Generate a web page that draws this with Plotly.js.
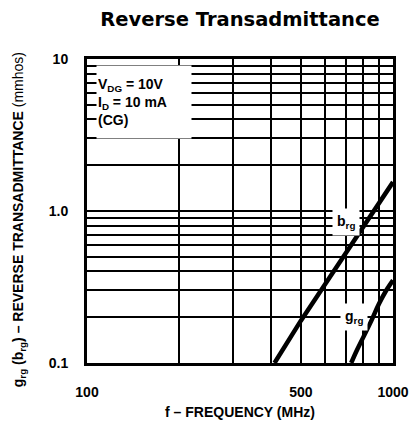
<!DOCTYPE html>
<html>
<head>
<meta charset="utf-8">
<script src="https://cdn.plot.ly/plotly-3.0.1.min.js"></script>
<style>html,body{margin:0;padding:0;background:#fff;}#chart{width:416px;height:425px;}</style>
</head>
<body>
<div id="chart"></div>
<script>
// Frequency (MHz) and reverse transadmittance (mmhos)
const brgFreq = [410, 500, 600, 700, 800, 900, 1000];
const brgVals = [0.1, 0.19, 0.33, 0.53, 0.79, 1.12, 1.55];
const grgFreq = [730, 760, 800, 850, 900, 950, 1000];
const grgVals = [0.1, 0.12, 0.148, 0.19, 0.245, 0.30, 0.35];

const xTickVals = [100, 500, 1000];
const xTickText = ['100', '500', '1000'];
const xGridVals = [200, 300, 400, 600, 700, 800, 900];
const yTickVals = [0.1, 1, 10];
const yTickText = ['0.1', '1.0', '10'];
const yGridVals = [0.2, 0.3, 0.4, 0.5, 0.6, 0.7, 0.8, 0.9, 2, 3, 4, 5, 6, 7, 8, 9];

const FONT = 'Liberation Sans, Arial, sans-serif';

const traces = [
  {x: brgFreq, y: brgVals, mode: 'lines', line: {color: 'black', width: 4.5}, hoverinfo: 'skip', showlegend: false},
  {x: grgFreq, y: grgVals, mode: 'lines', line: {color: 'black', width: 4.5, shape: 'spline'}, hoverinfo: 'skip', showlegend: false}
];

const axisCommon = {
  type: 'log',
  tickmode: 'array',
  showgrid: true, gridcolor: 'black', gridwidth: 2,
  showline: true, linecolor: 'black', linewidth: 3, mirror: true,
  ticks: '', zeroline: false,
  tickfont: {family: FONT, size: 14, color: 'black', weight: 'bold'},
  automargin: false, fixedrange: true
};

const layout = {
  width: 416, height: 425,
  margin: {l: 87, r: 23, t: 59, b: 62},
  paper_bgcolor: 'white', plot_bgcolor: 'white',
  showlegend: false,
  title: {
    text: 'Reverse Transadmittance',
    font: {family: 'DejaVu Sans, Liberation Sans, sans-serif', size: 19.5, color: 'black', weight: 'bold'},
    x: 0.577, xanchor: 'center', xref: 'container',
    y: 1 - 19.5/425, yanchor: 'middle', yref: 'container'
  },
  xaxis: Object.assign({}, axisCommon, {
    range: [2, 3],
    tickvals: xTickVals, ticktext: xTickText,
    minor: {tickmode: 'array', tickvals: xGridVals, showgrid: true, gridcolor: 'black', gridwidth: 2, ticks: ''},
    ticklabelstandoff: 14,
    title: {text: 'f – FREQUENCY (MHz)', font: {family: FONT, size: 14, color: 'black', weight: 'bold'}, standoff: 9}
  }),
  yaxis: Object.assign({}, axisCommon, {
    range: [-1, 1],
    tickvals: yTickVals, ticktext: yTickText,
    minor: {tickmode: 'array', tickvals: yGridVals, showgrid: true, gridcolor: 'black', gridwidth: 2, ticks: ''},
    ticklabelstandoff: 13
  }),
  annotations: [
    {
      xref: 'paper', yref: 'paper', x: -0.222, y: 0.47, xanchor: 'center', yanchor: 'middle',
      textangle: -90, showarrow: false,
      text: '<b>g<sub>rg</sub> (b<sub>rg</sub>) – REVERSE TRANSADMITTANCE</b> (mmhos)',
      font: {family: FONT, size: 14, color: 'black'}
    },
    {
      xref: 'paper', yref: 'paper', x: 0.03, y: 0.98, xanchor: 'left', yanchor: 'top',
      width: 92, height: 70, align: 'left', valign: 'middle',
      bgcolor: 'white', borderpad: 1, showarrow: false,
      text: 'V<sub>DG</sub> = 10V<br>I<sub>D</sub> = 10 mA<br>(CG)',
      font: {family: FONT, size: 14, color: 'black', weight: 'bold'}
    },
    {
      xref: 'paper', yref: 'paper', x: 0.847, y: 0.464, xanchor: 'center', yanchor: 'middle',
      bgcolor: 'white', borderpad: 4, showarrow: false,
      text: 'b<sub>rg</sub>',
      font: {family: FONT, size: 14, color: 'black', weight: 'bold'}
    },
    {
      xref: 'paper', yref: 'paper', x: 0.872, y: 0.152, xanchor: 'center', yanchor: 'middle',
      bgcolor: 'white', borderpad: 4, showarrow: false,
      text: 'g<sub>rg</sub>',
      font: {family: FONT, size: 14, color: 'black', weight: 'bold'}
    }
  ]
};

Plotly.newPlot('chart', traces, layout, {staticPlot: true, displayModeBar: false});
</script>
</body>
</html>
